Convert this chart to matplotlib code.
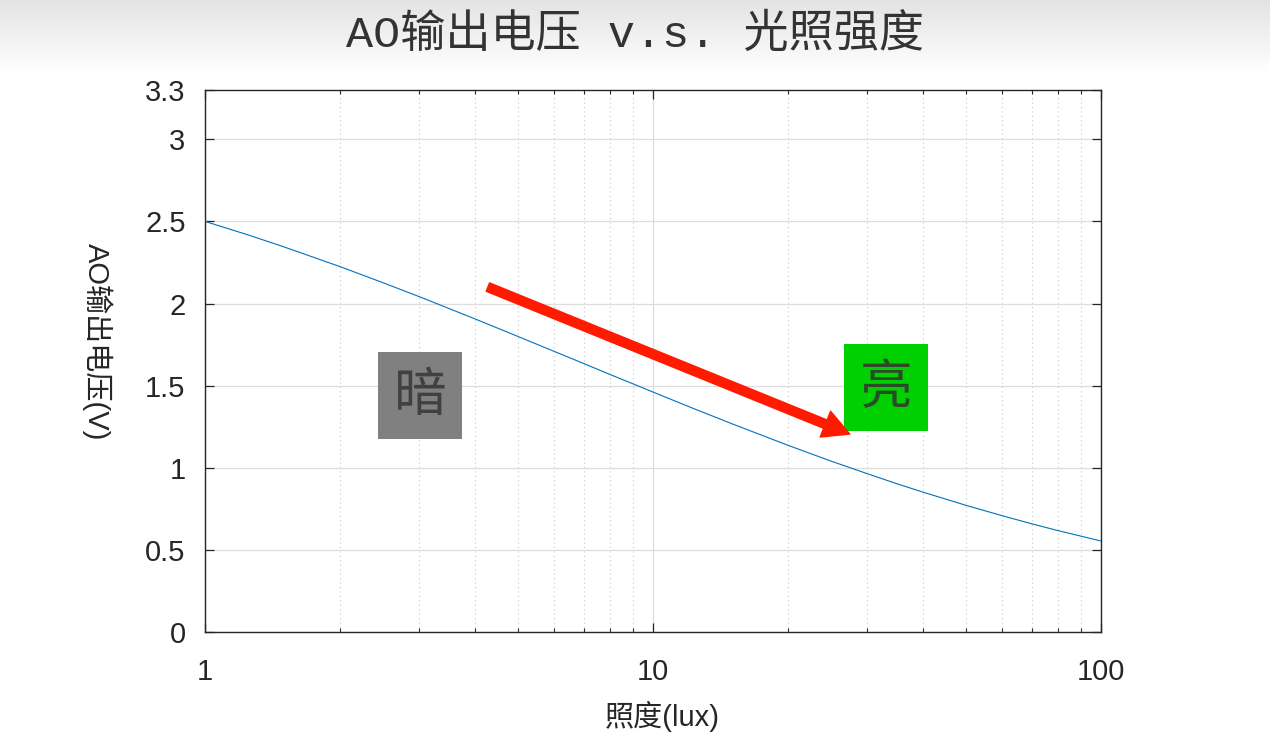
import numpy as np
import matplotlib
matplotlib.use("Agg")
import matplotlib.pyplot as plt

# ---- data ----
lux = [1, 1.25, 1.5, 2, 2.5, 3, 4, 5, 6, 7, 8, 10, 12, 15, 20, 25, 30, 35, 40,
       50, 60, 70, 80, 100]
volts = [2.500, 2.417, 2.345, 2.225, 2.126, 2.043, 1.907, 1.799, 1.710, 1.635,
         1.569, 1.461, 1.373, 1.268, 1.137, 1.040, 0.965, 0.903, 0.852,
         0.771, 0.709, 0.659, 0.618, 0.554]
y_ticks = [0, 0.5, 1, 1.5, 2, 2.5, 3, 3.3]
y_tick_labels = ["0", "0.5", "1", "1.5", "2", "2.5", "3", "3.3"]
x_ticks = [1, 10, 100]
x_tick_labels = ["1", "10", "100"]
title = "AO输出电压 v.s. 光照强度"
xlabel = "照度(lux)"
ylabel = "AO输出电压(V)"
dark_label = "暗"
bright_label = "亮"
dark_pos = (3.02, 1.44)
bright_pos = (33.1, 1.49)
arrow_start = (4.28, 2.10)
arrow_end = (27.5, 1.205)

plt.rcParams['font.family'] = ['Liberation Sans', 'Noto Sans CJK SC', 'DejaVu Sans']

fig = plt.figure(figsize=(12.7, 7.4), dpi=100)
fig.patch.set_facecolor('white')

# top gradient band
gax = fig.add_axes([0, 1 - 75 / 740, 1, 75 / 740], zorder=0)
grad = np.linspace(0.89, 1.0, 100).reshape(-1, 1)
gax.imshow(np.repeat(grad, 2, axis=1), aspect='auto', cmap='gray', vmin=0, vmax=1,
           extent=[0, 1, 0, 1], origin='upper')
gax.axis('off')

ax = fig.add_axes([205 / 1270, 1 - 632 / 740, (1101 - 205) / 1270, (632 - 90) / 740], zorder=1)
ax.set_xscale('log')
ax.plot(lux, volts, color='#0072BD', lw=0.8, zorder=3)
ax.set_xlim(1, 100)
ax.set_ylim(0, 3.3)

ax.set_yticks(y_ticks)
ax.set_yticklabels(y_tick_labels)
ax.set_xticks(x_ticks)
ax.set_xticklabels(x_tick_labels)

ax.grid(True, which='major', color='#dddddd', lw=0.9, ls='-')
ax.grid(True, which='minor', axis='x', color='#c8c8c8', lw=0.8, ls=(0, (1, 3)))
for gl, t in zip(ax.get_ygridlines(), y_ticks):
    if t == 3.3:
        gl.set_visible(False)
ax.set_axisbelow(True)

ax.tick_params(which='major', direction='in', length=6.5, width=0.9, top=True, right=True,
               labelsize=21, colors='#262626', pad=14)
ax.tick_params(axis='x', which='major', pad=19)
ax.tick_params(which='minor', direction='in', length=3, width=0.8, top=True, right=True,
               colors='#262626')
ax.tick_params(axis='y', which='minor', left=False, right=False)
for s in ax.spines.values():
    s.set_color('#262626')
    s.set_linewidth(1.0)

ax.set_xlabel(xlabel, fontsize=21, color='#262626', va='center')
ax.xaxis.set_label_coords(0.51, -0.155)
ax.set_ylabel(ylabel, fontsize=21, color='#262626', rotation=-90, va='center')
ax.yaxis.set_label_coords(-0.12, 0.535)

ax.text(dark_pos[0], dark_pos[1], dark_label, fontsize=38, color='#404040',
        family=['Noto Sans CJK SC'], ha='center', va='center', zorder=5,
        bbox=dict(boxstyle='square,pad=0.3', facecolor='#808080', edgecolor='none'))
ax.text(bright_pos[0], bright_pos[1], bright_label, fontsize=38, color='#2a4a2a',
        family=['Noto Sans CJK SC'], ha='center', va='center', zorder=5,
        bbox=dict(boxstyle='square,pad=0.3', facecolor='#00d000', edgecolor='none'))

ax.annotate('', xy=arrow_end, xytext=arrow_start,
            arrowprops=dict(facecolor='#ff1a00', edgecolor='#ff1a00', width=6.5,
                            headwidth=20, headlength=19, shrink=0), zorder=6)

fig.text(0.5, 1 - 35 / 740, title, fontsize=32.5, color='#333333', ha='center', va='center',
         family=['Liberation Mono', 'Noto Sans CJK SC'], zorder=3)

fig.savefig('out.png', dpi=100)
